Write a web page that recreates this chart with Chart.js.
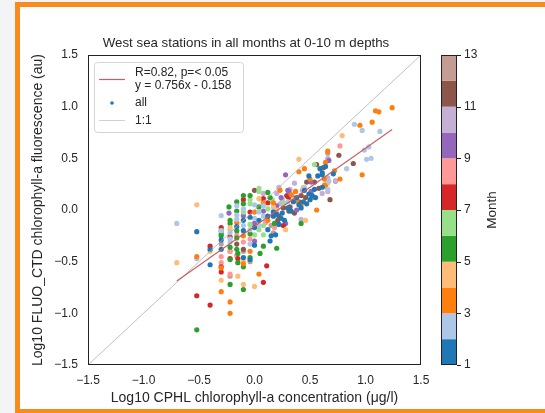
<!DOCTYPE html>
<html lang="en">
<head>
<meta charset="UTF-8">
<title>West sea stations</title>
<script src="https://cdn.jsdelivr.net/npm/chart.js"></script>
<style>
    html, body {
        margin: 0;
        padding: 0;
        background: #f3f4f6;
        overflow: hidden;
    }
    .frame {
        position: absolute;
        left: 15px;
        top: 2px;
        width: 560px;
        height: 402px;
        border: 5px solid #f98b1c;
        border-right: none;
        background: #fff;
    }
    #chart {
        position: absolute;
        left: 0;
        top: 0;
    }
</style>
</head>
<body>
<div class="frame"></div>
<canvas id="chart" width="545" height="413"></canvas>
<script>
// points per month: [log10 CPHL, log10 FLUO_CTD]
const month1 = [[-0.52,-0.21],[-0.30,-0.29],[-0.30,-0.38],[-0.40,-0.38],[-0.40,-0.53],[-0.16,-0.16],[-0.10,-0.10],[-0.10,-0.20],
    [-0.10,-0.46],[-0.04,-0.07],[-0.04,-0.48],[0.0,-0.17],[0.0,-0.34],[0.04,-0.10],[0.12,-0.06],[0.12,-0.19],[0.17,-0.06],
    [0.17,-0.02],[0.20,-0.04],[0.27,-0.10],[0.33,-0.01],[0.45,0.19],[0.49,0.33],[0.49,0.155],[0.54,0.20],[0.57,0.33],
    [0.59,0.40],[0.61,0.36],[0.61,0.22],[0.64,0.42],[0.61,0.34],[0.71,0.35],[0.15,-0.25],[0.22,-0.14],[0.25,-0.03],
    [0.30,0.02],[0.35,0.08],[0.38,0.12],[0.40,0.05],[0.42,0.02],[0.44,0.08],[0.47,0.06],[0.50,0.10],[0.52,0.14],
    [0.55,0.12],[0.14,-0.30],[0.19,-0.24],[0.24,-0.08]];
const month2 = [[-0.70,-0.13],[-0.30,-0.055],[-0.22,-0.22],[-0.22,-0.28],[-0.22,-0.31],[-0.16,0.04],[-0.16,-0.05],[-0.16,-0.09],
    [-0.10,0.01],[-0.10,-0.15],[-0.04,-0.19],[-0.04,-0.33],[0.0,0.05],[0.0,-0.08],[0.04,-0.02],[0.04,-0.15],[0.08,0.04],
    [0.08,-0.06],[0.17,-0.01],[0.90,0.83],[0.97,0.77],[1.13,0.76],[0.83,0.40],[0.99,0.58],[1.03,0.61],[1.01,0.49],
    [1.05,0.50],[0.67,0.28],[0.66,0.20],[0.30,0.08],[0.45,0.22],[-0.30,-0.20]];
const month3 = [[-0.52,-0.45],[-0.30,-0.56],[-0.30,-0.79],[-0.22,-0.89],[-0.22,-1.00],[-0.16,-0.12],[-0.10,-0.25],[-0.10,-0.52],
    [0.0,-0.02],[0.04,-0.62],[0.08,0.07],[0.17,0.07],[0.23,0.19],[0.33,0.15],[0.37,0.18],[0.38,0.09],[0.40,0.37],
    [0.45,0.40],[0.50,0.30],[0.56,0.0],[0.63,0.24],[0.64,0.46],[0.66,0.57],[0.72,0.38],[0.77,0.30],[0.63,0.30],
    [0.64,0.23],[0.97,0.34],[0.95,0.82],[1.06,0.85],[1.09,0.96],[1.12,0.95],[1.24,0.99],[0.42,0.05],[0.52,0.12],
    [0.12,-0.10],[-0.04,-0.40]];
const month4 = [[-0.52,0.05],[-0.70,-0.51],[-0.40,-0.40],[-0.30,-0.68],[-0.22,-0.17],[-0.15,-0.64],[-0.10,-0.49],[-0.10,-0.72],
    [0.0,-0.74],[0.04,0.11],[0.17,0.03],[0.28,-0.19],[0.40,0.49],[0.46,-0.10],[0.79,0.72],[0.66,0.26],[0.44,0.22],
    [0.35,0.10],[0.20,0.0]];
const month5 = [[-0.52,-1.16],[-0.30,-0.20],[-0.30,-0.23],[-0.30,-0.25],[-0.23,0.03],[-0.22,-0.10],[-0.22,-0.13],[-0.22,-0.36],
    [-0.22,-0.72],[-0.22,-0.48],[-0.16,0.08],[-0.16,-0.01],[-0.16,-0.20],[-0.16,-0.27],[-0.16,-0.38],[-0.15,-0.42],
    [-0.15,-0.51],[-0.10,0.14],[-0.10,0.06],[-0.10,-0.55],[-0.10,-0.77],[-0.04,0.14],[-0.04,-0.23],[-0.04,-0.46],
    [0.04,0.03],[0.05,-0.42],[0.08,-0.35],[0.12,0.17],[0.14,0.12],[0.18,-0.13],[0.20,-0.37],[0.42,-0.13]];
const month6 = [[-0.22,-0.19],[-0.04,0.10],[-0.04,0.06],[-0.04,-0.14],[0.0,-0.24],[0.04,0.21],[0.04,0.18],[0.04,-0.19],
    [0.08,-0.15],[0.08,-0.24],[0.12,0.01],[0.26,0.07],[0.54,0.44],[0.16,0.10],[-0.10,-0.02]];
const month7 = [[-0.30,-0.17],[-0.40,-0.35],[-0.52,-0.83],[-0.40,-0.92],[-0.30,-0.60],[-0.30,-0.55],[-0.22,-0.26],[-0.22,-0.47],
    [-0.15,-0.47],[-0.10,0.10],[-0.04,-0.02],[0.08,0.11],[0.08,-0.70],[0.11,-0.54],[0.12,0.07],[0.26,-0.15],[0.30,0.13]];
const month8 = [[-0.30,-0.51],[-0.22,-0.40],[-0.22,-0.62],[-0.16,-0.24],[-0.16,-0.44],[-0.10,-0.31],[-0.04,-0.28],[0.18,-0.17],
    [0.77,0.62],[-0.30,-0.45],[0.10,-0.12]];
const month9 = [[-0.23,-0.03],[-0.10,-0.055],[0.0,-0.13],[0.0,-0.30],[0.08,-0.01],[0.28,0.34],[0.30,0.19],[0.31,0.18],
    [0.36,0.11],[0.28,-0.13],[0.38,0.0],[0.51,0.27],[0.51,0.18],[0.67,0.48],[0.24,0.12],[0.20,0.04]];
const month10 = [[-0.52,-0.47],[0.08,0.16],[0.20,0.16],[0.23,0.06],[0.32,0.20],[0.36,0.26],[0.43,0.19],[0.42,-0.09],
    [0.65,0.29],[0.66,0.50],[0.66,0.31],[0.73,0.28],[0.66,0.18],[0.61,0.16],[0.25,0.10],[0.34,0.14],[0.22,0.22]];
const month11 = [[0.0,0.19],[-0.10,-0.38],[-0.16,-0.33],[0.22,-0.06],[0.21,-0.10],[0.29,0.14],[0.31,0.12],[0.31,-0.01],
    [0.32,0.03],[0.36,-0.03],[0.42,0.14],[0.46,0.12],[0.47,0.27],[0.54,0.27],[0.58,0.21],[0.62,0.41],[0.68,0.10],
    [0.76,0.53],[0.73,0.28],[0.89,0.45],[0.56,0.44],[0.26,0.02],[0.40,0.08]];
const month12 = [[-0.30,-0.33],[-0.22,-0.40],[-0.22,-0.64],[0.17,-0.22],[0.66,0.55],[-0.10,-0.40],[-0.04,-0.50],[0.15,-0.15]];

const monthPoints = [month1, month2, month3, month4, month5, month6, month7, month8, month9, month10, month11, month12];
const monthColors = ['#1f77b4', '#aec7e8', '#ff7f0e', '#ffbb78', '#2ca02c', '#98df8a',
                     '#d62728', '#ff9896', '#9467bd', '#c5b0d5', '#8c564b', '#c49c94'];

// fit line end points and 1:1 line
const fitX = [-0.70, 1.24];
const fitY = [-0.687, 0.779];
const oneX = [-1.5, 1.5];
const oneY = [-1.5, 1.5];

const tickValues = [-1.5, -1.0, -0.5, 0.0, 0.5, 1.0, 1.5];
const tickLabels = ['\u22121.5', '\u22121.0', '\u22120.5', '0.0', '0.5', '1.0', '1.5'];
const cbTicks = [1, 3, 5, 7, 9, 11, 13];

const FONT = "'Liberation Sans', Arial, sans-serif";
const TXT = '#262626';
const RED = '#cc5c5c';

function tickText(v) {
    const i = tickValues.findIndex(t => Math.abs(t - v) < 1e-6);
    return i >= 0 ? tickLabels[i] : '';
}

const datasets = [];
datasets.push({
    type: 'line', label: 'fit',
    data: fitX.map((x, i) => ({x: x, y: fitY[i]})),
    borderColor: RED, borderWidth: 1.1, pointRadius: 0, fill: false
});
datasets.push({
    type: 'line', label: '1:1',
    data: oneX.map((x, i) => ({x: x, y: oneY[i]})),
    borderColor: '#b0b0b0', borderWidth: 0.8, pointRadius: 0, fill: false
});
monthPoints.forEach((pts, m) => {
    datasets.push({
        label: 'month ' + (m + 1),
        data: pts.map(p => ({x: p[0], y: p[1]})),
        backgroundColor: monthColors[m],
        borderWidth: 0,
        pointRadius: 2.6
    });
});

// title, legend box, colorbar and full frame
const extras = {
    id: 'extras',
    afterDatasetsDraw(chart) {
        const ctx = chart.ctx;
        const a = chart.chartArea;
        ctx.save();

        // spines
        ctx.strokeStyle = '#222';
        ctx.lineWidth = 1;
        ctx.strokeRect(Math.round(a.left) + 0.5, Math.round(a.top) + 0.5,
                       Math.round(a.right - a.left) - 1, Math.round(a.bottom - a.top) - 1);

        // title
        ctx.fillStyle = TXT;
        ctx.font = '13.3px ' + FONT;
        ctx.textAlign = 'center';
        ctx.textBaseline = 'middle';
        ctx.fillText('West sea stations in all months at 0-10 m depths', 246, 43);

        // legend
        const lx = 94.5, ly = 62.5, lw = 149, lh = 70;
        ctx.beginPath();
        ctx.roundRect(lx, ly, lw, lh, 3);
        ctx.fillStyle = 'rgba(255,255,255,0.85)';
        ctx.fill();
        ctx.strokeStyle = '#d4d4d4';
        ctx.lineWidth = 1;
        ctx.stroke();

        ctx.lineWidth = 1.2;
        ctx.strokeStyle = RED;
        ctx.beginPath(); ctx.moveTo(99, 79.5); ctx.lineTo(125, 79.5); ctx.stroke();
        ctx.lineWidth = 0.8;
        ctx.strokeStyle = '#c4c4c4';
        ctx.beginPath(); ctx.moveTo(99, 120.5); ctx.lineTo(125, 120.5); ctx.stroke();
        ctx.fillStyle = monthColors[0];
        ctx.beginPath(); ctx.arc(112, 103, 1.8, 0, Math.PI * 2); ctx.fill();

        ctx.fillStyle = TXT;
        ctx.font = '12px ' + FONT;
        ctx.textAlign = 'left';
        ctx.fillText('R=0.82, p=< 0.05', 135, 72.5);
        ctx.fillText('y = 0.756x - 0.158', 135, 85.5);
        ctx.fillText('all', 135, 103);
        ctx.fillText('1:1', 135, 120.5);

        // colorbar
        const cx = 441, cw = 16;
        const top = a.top, bot = a.bottom, h = bot - top;
        monthColors.forEach((c, m) => {
            const y1 = bot - (m + 1) / 12 * h;
            const y0 = bot - m / 12 * h;
            ctx.fillStyle = c;
            ctx.fillRect(cx, y1, cw, y0 - y1);
        });
        ctx.strokeStyle = '#222';
        ctx.lineWidth = 1;
        ctx.strokeRect(cx + 0.5, Math.round(top) + 0.5, cw - 1, Math.round(h) - 1);
        ctx.font = '12px ' + FONT;
        ctx.fillStyle = TXT;
        ctx.textAlign = 'left';
        cbTicks.forEach(t => {
            const y = bot - (t - 1) / 12 * h;
            ctx.beginPath();
            ctx.moveTo(cx + cw, Math.round(y) + 0.5);
            ctx.lineTo(cx + cw + 4, Math.round(y) + 0.5);
            ctx.stroke();
            ctx.fillText(String(t), cx + cw + 7, y);
        });
        ctx.translate(492, (top + bot) / 2);
        ctx.rotate(-Math.PI / 2);
        ctx.font = '13.5px ' + FONT;
        ctx.textAlign = 'center';
        ctx.fillText('Month', 0, 0);

        ctx.restore();
    }
};

new Chart(document.getElementById('chart'), {
    type: 'scatter',
    data: { datasets: datasets },
    options: {
        responsive: false,
        animation: false,
        layout: { padding: { left: 26, right: 124, top: 55, bottom: 2 } },
        plugins: {
            legend: { display: false },
            tooltip: { enabled: false },
            title: { display: false }
        },
        scales: {
            x: {
                type: 'linear', min: -1.5, max: 1.5,
                afterFit: s => { s.height = 46; },
                grid: { display: false, drawTicks: false },
                border: { display: false },
                ticks: {
                    stepSize: 0.5, padding: 8, color: TXT,
                    font: { family: FONT, size: 12 },
                    callback: v => tickText(v)
                },
                title: {
                    display: true, text: 'Log10 CPHL chlorophyll-a concentration (\u03bcg/l)',
                    color: TXT, font: { family: FONT, size: 14 }, padding: { top: 4, bottom: 4 }
                }
            },
            y: {
                type: 'linear', min: -1.5, max: 1.5,
                afterFit: s => { s.width = 62; },
                grid: { display: false, drawTicks: false },
                border: { display: false },
                ticks: {
                    stepSize: 0.5, padding: 10, color: TXT,
                    font: { family: FONT, size: 12 },
                    callback: v => tickText(v)
                },
                title: {
                    display: true, text: 'Log10 FLUO_CTD chlorophyll-a fluorescence (au)',
                    color: TXT, font: { family: FONT, size: 14 }, padding: { top: 4, bottom: 4 }
                }
            }
        }
    },
    plugins: [extras]
});
</script>
</body>
</html>
